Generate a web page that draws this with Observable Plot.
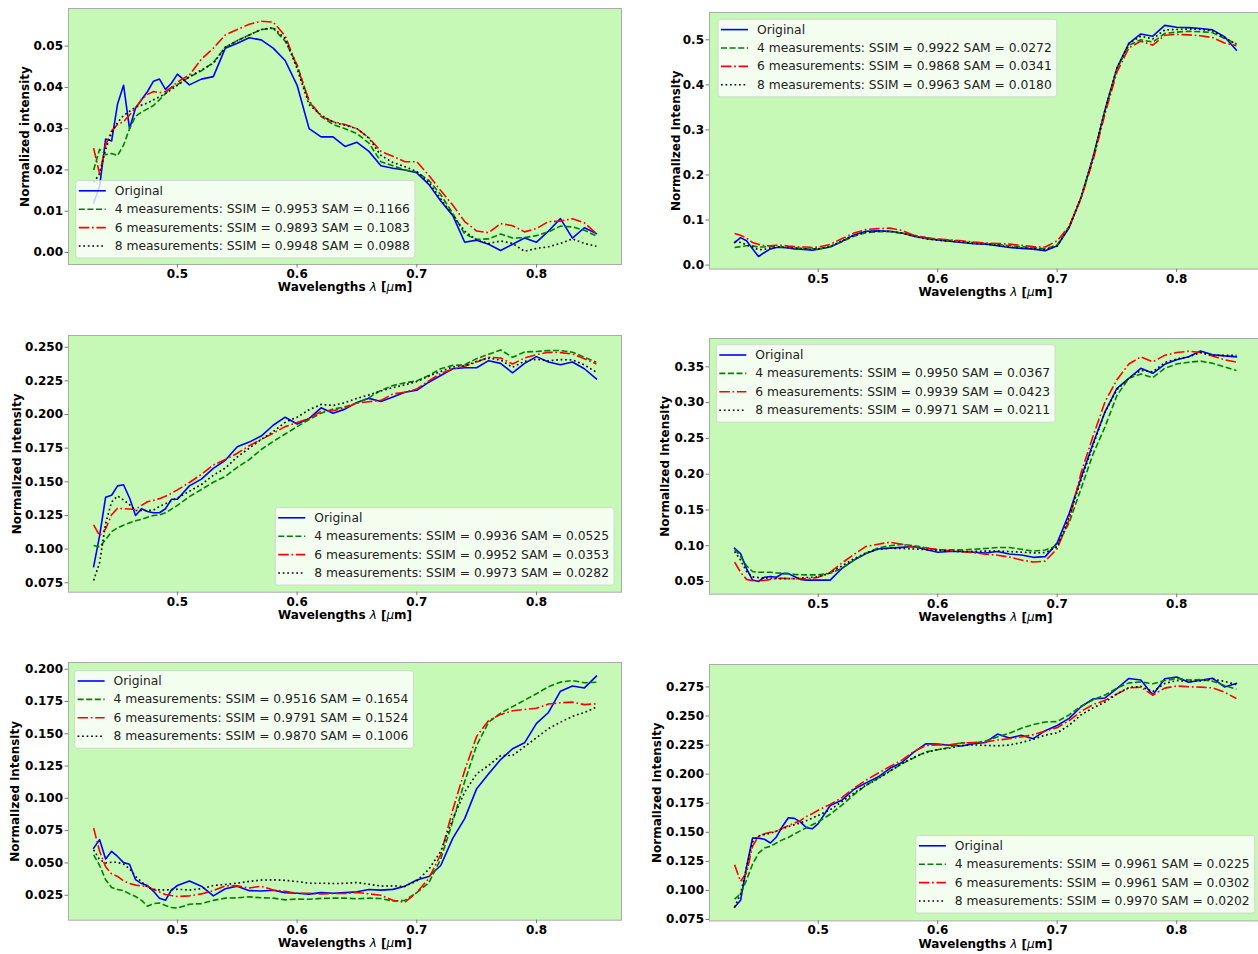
<!DOCTYPE html>
<html>
<head>
<meta charset="utf-8">
<script src="https://cdn.jsdelivr.net/npm/d3@7"></script>
<script src="https://cdn.jsdelivr.net/npm/@observablehq/plot@0.6"></script>
<style>
html, body { margin: 0; padding: 0; background: #ffffff; width: 1258px; height: 954px; overflow: hidden; }
.cell { position: absolute; }
</style>
</head>
<body>
<script>
// ---------- shared wavelength grid (µm) ----------
const W = [0.430,0.435,0.440,0.445,0.450,0.455,0.460,0.465,0.470,0.475,0.480,0.485,0.490,0.495,0.500,
  0.51,0.52,0.53,0.54,0.55,0.56,0.57,0.58,0.59,0.60,0.61,0.62,0.63,0.64,0.65,0.66,0.67,0.68,0.69,0.70,
  0.71,0.72,0.73,0.74,0.75,0.76,0.77,0.78,0.79,0.80,0.81,0.82,0.83,0.84,0.85];

const seriesNames = ["Original", "4 measurements", "6 measurements", "8 measurements"];
const xTicks = [0.5, 0.6, 0.7, 0.8];
const xLabel = "Wavelengths λ [μm]";
const yLabel = "Normalized intensity";

// ---------- panel 1 ----------
const p1Original = [0.012,0.016,0.0275,0.027,0.036,0.0405,0.030,0.035,0.037,0.039,0.0415,0.042,0.0395,0.041,0.0432,
  0.0406,0.042,0.0426,0.0495,0.0507,0.052,0.0515,0.0495,0.0465,0.0405,0.030,0.028,0.028,0.0257,0.0267,0.0245,0.021,0.0204,0.020,0.0193,
  0.0165,0.0125,0.009,0.0025,0.003,0.002,0.0005,0.002,0.0035,0.0025,0.0052,0.0082,0.0035,0.006,0.0046];
const p1M4 = [0.020,0.025,0.0237,0.024,0.0235,0.026,0.030,0.033,0.034,0.0348,0.0356,0.037,0.0385,0.040,0.0407,
  0.0425,0.044,0.046,0.0497,0.0513,0.0527,0.054,0.0543,0.0512,0.0455,0.0365,0.033,0.031,0.030,0.0288,0.0265,0.022,0.021,0.020,0.0195,
  0.0175,0.014,0.0095,0.0045,0.0032,0.0033,0.0045,0.0035,0.0036,0.0041,0.005,0.0064,0.0062,0.0054,0.004];
const p1M6 = [0.0253,0.019,0.026,0.0295,0.031,0.0317,0.0333,0.035,0.037,0.0383,0.039,0.0387,0.039,0.040,0.0413,
  0.043,0.0468,0.0495,0.0527,0.054,0.0553,0.056,0.0558,0.0525,0.045,0.0368,0.033,0.0317,0.031,0.030,0.0278,0.0245,0.0233,0.022,0.022,
  0.0187,0.015,0.0115,0.0075,0.0052,0.0048,0.007,0.0065,0.005,0.0058,0.0075,0.0076,0.0082,0.0072,0.0046];
const p1M8 = [0.017,0.019,0.025,0.029,0.0315,0.0332,0.0342,0.0352,0.0357,0.0362,0.037,0.0377,0.0385,0.0395,0.0405,
  0.0426,0.0442,0.0458,0.0497,0.0513,0.0527,0.054,0.0545,0.0518,0.0445,0.0358,0.0333,0.0316,0.0308,0.030,0.0277,0.0235,0.0218,0.0208,0.0196,
  0.017,0.013,0.009,0.0052,0.003,0.0022,0.0028,0.0022,0.0003,0.001,0.0014,0.0022,0.0033,0.0022,0.0015];
const p1Metrics = [[0.9953, 0.1166], [0.9893, 0.1083], [0.9948, 0.0988]];
const p1YTicks = [0, 0.01, 0.02, 0.03, 0.04, 0.05];
const p1YDomain = [-0.0029, 0.0591];

// ---------- panel 2 ----------
const p2Original = [0.050,0.061,0.054,0.036,0.019,0.028,0.036,0.039,0.039,0.038,0.036,0.035,0.034,0.033,0.035,
  0.040,0.053,0.067,0.075,0.076,0.075,0.071,0.064,0.059,0.056,0.053,0.050,0.0475,0.0465,0.043,0.039,0.037,0.0355,0.032,0.043,
  0.083,0.150,0.239,0.344,0.437,0.492,0.513,0.508,0.532,0.528,0.527,0.525,0.522,0.507,0.477];
const p2M4 = [0.039,0.041,0.043,0.043,0.040,0.040,0.042,0.041,0.040,0.039,0.038,0.037,0.036,0.036,0.036,
  0.041,0.052,0.064,0.072,0.074,0.074,0.071,0.066,0.061,0.057,0.055,0.052,0.050,0.048,0.046,0.043,0.041,0.039,0.036,0.045,
  0.085,0.150,0.238,0.342,0.435,0.488,0.500,0.495,0.514,0.517,0.519,0.518,0.516,0.503,0.491];
const p2M6 = [0.070,0.066,0.060,0.050,0.046,0.043,0.043,0.044,0.044,0.042,0.041,0.040,0.040,0.039,0.040,
  0.046,0.059,0.071,0.079,0.081,0.082,0.077,0.066,0.061,0.058,0.056,0.054,0.051,0.049,0.048,0.0465,0.044,0.041,0.040,0.054,
  0.086,0.148,0.232,0.336,0.428,0.482,0.497,0.488,0.510,0.512,0.511,0.509,0.505,0.493,0.487];
const p2M8 = [0.052,0.050,0.045,0.040,0.034,0.035,0.038,0.040,0.040,0.039,0.038,0.037,0.036,0.035,0.036,
  0.041,0.054,0.066,0.073,0.075,0.075,0.071,0.064,0.058,0.055,0.053,0.051,0.048,0.047,0.044,0.040,0.038,0.037,0.034,0.042,
  0.084,0.151,0.239,0.344,0.438,0.492,0.508,0.502,0.522,0.523,0.524,0.523,0.520,0.505,0.490];
const p2Metrics = [[0.9922, 0.0272], [0.9868, 0.0341], [0.9963, 0.0180]];
const p2YTicks = [0, 0.1, 0.2, 0.3, 0.4, 0.5];
const p2YDomain = [-0.0089, 0.5606];

// ---------- panel 3 ----------
const p3Original = [0.087,0.110,0.1386,0.140,0.147,0.1478,0.138,0.125,0.130,0.128,0.127,0.127,0.130,0.137,0.137,
  0.147,0.152,0.160,0.166,0.176,0.1795,0.184,0.192,0.198,0.193,0.197,0.205,0.201,0.204,0.209,0.212,0.2097,0.213,0.2165,0.218,
  0.224,0.229,0.234,0.2347,0.2347,0.240,0.238,0.231,0.238,0.243,0.239,0.237,0.239,0.234,0.2265];
const p3M4 = [0.1027,0.1015,0.107,0.113,0.1158,0.1178,0.1195,0.121,0.1222,0.1237,0.125,0.1255,0.127,0.1297,0.1325,
  0.139,0.1443,0.1497,0.154,0.1608,0.1665,0.174,0.180,0.1855,0.191,0.1963,0.201,0.204,0.2057,0.2085,0.2125,0.218,0.2215,0.2235,0.225,
  0.229,0.234,0.2365,0.237,0.2415,0.2447,0.248,0.2425,0.2465,0.2468,0.2475,0.2475,0.2463,0.2426,0.2389];
const p3M6 = [0.118,0.110,0.115,0.1255,0.1304,0.130,0.1298,0.1294,0.1325,0.1352,0.1362,0.1375,0.1393,0.1415,0.144,
  0.1495,0.1555,0.1625,0.1665,0.1712,0.1768,0.1815,0.186,0.191,0.194,0.197,0.2023,0.2028,0.205,0.2085,0.2095,0.2105,0.2153,0.2165,0.219,
  0.225,0.2305,0.2338,0.2358,0.239,0.2425,0.242,0.2375,0.242,0.2445,0.2463,0.246,0.245,0.2415,0.2376];
const p3M8 = [0.0767,0.090,0.119,0.135,0.1395,0.1365,0.133,0.1287,0.1287,0.1287,0.129,0.1317,0.1337,0.1358,0.138,
  0.143,0.148,0.1548,0.1602,0.1685,0.175,0.1815,0.1873,0.1942,0.198,0.2035,0.2075,0.2067,0.2088,0.212,0.2146,0.2175,0.220,0.222,0.2245,
  0.2285,0.232,0.2353,0.2362,0.2395,0.2418,0.2405,0.2351,0.2395,0.241,0.2398,0.2408,0.2406,0.2368,0.2314];
const p3Metrics = [[0.9936, 0.0525], [0.9952, 0.0353], [0.9973, 0.0282]];
const p3YTicks = [0.075, 0.1, 0.125, 0.15, 0.175, 0.2, 0.225, 0.25];
const p3YDomain = [0.068, 0.2587];

// ---------- panel 4 ----------
const p4Original = [0.0965,0.089,0.068,0.052,0.050,0.056,0.057,0.056,0.061,0.061,0.057,0.053,0.052,0.052,0.052,
  0.052,0.0686,0.080,0.089,0.0955,0.0967,0.0977,0.099,0.0948,0.091,0.092,0.092,0.091,0.0898,0.092,0.0885,0.087,0.0838,0.0848,0.104,
  0.145,0.195,0.243,0.287,0.320,0.334,0.348,0.341,0.3535,0.360,0.364,0.372,0.367,0.3653,0.364];
const p4M4 = [0.095,0.085,0.072,0.064,0.063,0.063,0.063,0.062,0.0616,0.061,0.060,0.0595,0.0593,0.0593,0.0593,
  0.0616,0.0686,0.080,0.0895,0.097,0.100,0.102,0.100,0.0972,0.0942,0.0942,0.0942,0.095,0.0962,0.0975,0.0975,0.095,0.0925,0.094,0.100,
  0.132,0.180,0.228,0.266,0.310,0.334,0.340,0.335,0.348,0.354,0.3565,0.358,0.355,0.350,0.345];
const p4M6 = [0.077,0.063,0.053,0.051,0.051,0.0515,0.053,0.054,0.0545,0.054,0.054,0.054,0.054,0.0545,0.056,
  0.063,0.076,0.088,0.099,0.102,0.105,0.102,0.098,0.0967,0.0948,0.093,0.0915,0.0905,0.0882,0.0868,0.0842,0.080,0.0772,0.0785,0.096,
  0.136,0.202,0.253,0.301,0.332,0.354,0.364,0.357,0.366,0.370,0.3718,0.370,0.365,0.360,0.3565];
const p4M8 = [0.092,0.080,0.064,0.0565,0.0555,0.055,0.0545,0.0542,0.054,0.054,0.054,0.0548,0.0555,0.056,0.0565,
  0.062,0.072,0.082,0.090,0.095,0.0965,0.0962,0.0955,0.0945,0.0935,0.0925,0.092,0.092,0.0925,0.0925,0.092,0.091,0.090,0.0905,0.098,
  0.140,0.192,0.240,0.287,0.318,0.334,0.345,0.343,0.356,0.361,0.364,0.370,0.366,0.366,0.366];
const p4Metrics = [[0.9950, 0.0367], [0.9939, 0.0423], [0.9971, 0.0211]];
const p4YTicks = [0.05, 0.1, 0.15, 0.2, 0.25, 0.3, 0.35];
const p4YDomain = [0.0323, 0.3896];

// ---------- panel 5 ----------
const p5Original = [0.0614,0.068,0.053,0.059,0.055,0.0502,0.049,0.037,0.034,0.0325,0.028,0.0227,0.021,0.029,0.0325,
  0.036,0.032,0.0245,0.030,0.032,0.0285,0.0283,0.0288,0.027,0.0265,0.0258,0.027,0.0265,0.027,0.0276,0.0294,0.0289,0.0295,0.032,0.0368,
  0.0395,0.048,0.069,0.0843,0.1075,0.119,0.130,0.1384,0.143,0.158,0.1665,0.183,0.187,0.1855,0.1946];
const p5M4 = [0.0562,0.048,0.037,0.031,0.0294,0.0285,0.026,0.024,0.021,0.0165,0.0185,0.019,0.017,0.0155,0.015,
  0.018,0.0185,0.021,0.0227,0.023,0.0237,0.023,0.0227,0.0214,0.022,0.0218,0.0225,0.0227,0.0227,0.0222,0.0227,0.0224,0.0205,0.021,0.027,
  0.0345,0.053,0.082,0.113,0.141,0.159,0.166,0.171,0.176,0.181,0.1865,0.190,0.1912,0.1895,0.1899];
const p5M6 = [0.0769,0.059,0.047,0.0415,0.0395,0.036,0.034,0.0328,0.0322,0.0318,0.0295,0.0275,0.0256,0.0247,0.024,
  0.0245,0.026,0.0285,0.0322,0.0322,0.0306,0.032,0.029,0.028,0.0265,0.0265,0.026,0.0263,0.0263,0.0271,0.026,0.025,0.021,0.0195,0.027,
  0.038,0.0565,0.091,0.1216,0.148,0.1603,0.165,0.1678,0.1688,0.1698,0.173,0.174,0.1745,0.1726,0.1732];
const p5M8 = [0.0601,0.0525,0.050,0.0505,0.0505,0.049,0.0455,0.0395,0.0355,0.031,0.0295,0.0291,0.0291,0.0293,0.0296,
  0.029,0.030,0.0325,0.0333,0.0343,0.0357,0.0367,0.0369,0.0365,0.0356,0.0343,0.0343,0.034,0.0342,0.0348,0.0335,0.032,0.0322,0.0318,0.036,
  0.045,0.059,0.084,0.1049,0.119,0.1255,0.133,0.1332,0.140,0.147,0.154,0.159,0.1635,0.1665,0.1706];
const p5Metrics = [[0.9516, 0.1654], [0.9791, 0.1524], [0.9870, 0.1006]];
const p5YTicks = [0.025, 0.05, 0.075, 0.1, 0.125, 0.15, 0.175, 0.2];
const p5YDomain = [0.00564, 0.2052];

// ---------- panel 6 ----------
const p6Original = [0.0856,0.0915,0.120,0.145,0.145,0.144,0.1408,0.146,0.155,0.1625,0.162,0.159,0.154,0.153,0.1575,
  0.173,0.1778,0.187,0.1925,0.1975,0.205,0.210,0.219,0.2261,0.2258,0.2248,0.2242,0.2262,0.2272,0.2345,0.231,0.2335,0.2305,0.2374,0.2418,
  0.248,0.258,0.2646,0.2655,0.2735,0.2823,0.2810,0.268,0.282,0.2836,0.279,0.2807,0.2825,0.275,0.2779];
const p6M4 = [0.0925,0.097,0.109,0.1225,0.132,0.1365,0.138,0.1408,0.1435,0.1455,0.1485,0.1512,0.1538,0.1565,0.159,
  0.1655,0.1735,0.1825,0.1905,0.1965,0.2028,0.2088,0.214,0.2192,0.221,0.223,0.227,0.2266,0.2285,0.232,0.2352,0.2395,0.2427,0.2449,0.2452,
  0.251,0.2585,0.2638,0.268,0.274,0.2785,0.2793,0.2777,0.2805,0.2822,0.281,0.2813,0.280,0.2762,0.273];
const p6M6 = [0.122,0.1078,0.115,0.138,0.1465,0.1488,0.150,0.1508,0.1535,0.1556,0.158,0.160,0.1635,0.166,0.169,
  0.174,0.180,0.188,0.1948,0.2008,0.2066,0.212,0.2195,0.2245,0.2252,0.2252,0.2268,0.2272,0.2277,0.2293,0.2305,0.232,0.234,0.237,0.240,
  0.246,0.254,0.2598,0.2635,0.269,0.2742,0.2748,0.268,0.274,0.2758,0.2752,0.2748,0.2742,0.2705,0.265];
const p6M8 = [0.0856,0.097,0.120,0.1415,0.1468,0.148,0.1492,0.151,0.153,0.1548,0.1565,0.158,0.160,0.1622,0.1645,
  0.1693,0.1765,0.1838,0.1905,0.196,0.2025,0.209,0.2145,0.2185,0.2212,0.2223,0.2246,0.2252,0.2247,0.2244,0.225,0.2272,0.230,0.2336,0.2355,
  0.242,0.251,0.257,0.262,0.269,0.2745,0.2755,0.271,0.278,0.2805,0.2797,0.2802,0.2818,0.2798,0.277];
const p6Metrics = [[0.9961, 0.0225], [0.9961, 0.0302], [0.9970, 0.0202]];
const p6YTicks = [0.075, 0.1, 0.125, 0.15, 0.175, 0.2, 0.225, 0.25, 0.275];
const p6YDomain = [0.0738, 0.2943];

// ---------- styling ----------
const FONT = "'DejaVu Sans', sans-serif";
const BG = "#c6f8b6";
const seriesStyles = [
  {stroke: "#0000ff", dash: undefined},
  {stroke: "#008000", dash: "6,2.6"},
  {stroke: "#ff0000", dash: "10.5,2.7,1.7,2.7"},
  {stroke: "#000000", dash: "1.7,2.8"}
];
const f4 = d3.format(".4f");

const panels = [
  {series: [p1Original, p1M4, p1M6, p1M8], metrics: p1Metrics, yTicks: p1YTicks, yDomain: p1YDomain, fmt: ".2f",
   frame: [68, 8.3, 621, 264.3], yOff: 43, legend: {corner: "lowerLeft", dx: 7.8, dy: 6}},
  {series: [p2Original, p2M4, p2M6, p2M8], metrics: p2Metrics, yTicks: p2YTicks, yDomain: p2YDomain, fmt: ".1f",
   frame: [709, 11.7, 1261, 268.3], yOff: 33, legend: {corner: "upperLeft", dx: 9, dy: 7.3}},
  {series: [p3Original, p3M4, p3M6, p3M8], metrics: p3Metrics, yTicks: p3YTicks, yDomain: p3YDomain, fmt: ".3f",
   frame: [68, 335, 621, 591.7], yOff: 51, legend: {corner: "lowerRight", dx: 7, dy: 6.7}},
  {series: [p4Original, p4M4, p4M6, p4M8], metrics: p4Metrics, yTicks: p4YTicks, yDomain: p4YDomain, fmt: ".2f",
   frame: [709, 338.3, 1261, 594], yOff: 44, legend: {corner: "upperLeft", dx: 7.3, dy: 6.7}},
  {series: [p5Original, p5M4, p5M6, p5M8], metrics: p5Metrics, yTicks: p5YTicks, yDomain: p5YDomain, fmt: ".3f",
   frame: [68, 662.3, 621, 920], yOff: 53, legend: {corner: "upperLeft", dx: 6.6, dy: 8.7}},
  {series: [p6Original, p6M4, p6M6, p6M8], metrics: p6Metrics, yTicks: p6YTicks, yDomain: p6YDomain, fmt: ".3f",
   frame: [709, 664.3, 1261, 920.7], yOff: 52, legend: {corner: "lowerRight", dx: 6.4, dy: 7.4}}
];

function addLegend(svg, p, fx0, fy0, fx1, fy1) {
  const fs = 12.3, rowH = 18.4, firstRow = 10.3, bh = 77.5;
  const labels = [seriesNames[0]].concat(
    p.metrics.map((m, k) => `${seriesNames[k + 1]}: SSIM = ${f4(m[0])} SAM = ${f4(m[1])}`));
  const g = d3.select(svg).append("g")
    .attr("font-family", FONT).attr("font-size", fs).attr("text-anchor", "start");
  const rect = g.append("rect");
  const handles = g.append("g");
  const texts = labels.map(t => g.append("text").attr("fill", "#222")
    .attr("text-anchor", "start").attr("dominant-baseline", "central").text(t));
  const tw = d3.max(texts, t => t.node().getComputedTextLength());
  const bw = tw + 44;
  const L = p.legend;
  const bx = L.corner === "lowerRight" ? fx1 - L.dx - bw : fx0 + L.dx;
  const by = L.corner === "upperLeft" ? fy0 + L.dy : fy1 - L.dy - bh;
  rect.attr("x", bx).attr("y", by).attr("width", bw).attr("height", bh).attr("rx", 2.5)
    .attr("fill", "#ffffff").attr("fill-opacity", 0.8).attr("stroke", "#d0d0d0").attr("stroke-opacity", 0.8);
  texts.forEach((t, i) => t.attr("x", bx + 39).attr("y", by + firstRow + i * rowH));
  seriesStyles.forEach((s, i) => {
    const yy = by + firstRow + i * rowH;
    handles.append("line").attr("x1", bx + 3).attr("x2", bx + 30).attr("y1", yy).attr("y2", yy)
      .attr("stroke", s.stroke).attr("stroke-width", 1.6)
      .attr("stroke-dasharray", s.dash || null);
  });
}

function makePanel(p) {
  const mL = 66, mR = 6, mT = 8, mB = 36;
  const fw = p.frame[2] - p.frame[0], fh = p.frame[3] - p.frame[1];
  const width = mL + fw + mR, height = mT + fh + mB;
  const axisText = {fontWeight: "bold", fontSize: 12, fill: "#000", stroke: "#777"};
  const svg = Plot.plot({
    width, height,
    marginLeft: mL, marginRight: mR, marginTop: mT, marginBottom: mB,
    style: {fontFamily: FONT, background: "transparent", overflow: "visible", maxWidth: "none"},
    x: {domain: [0.409, 0.871]},
    y: {domain: p.yDomain},
    marks: [
      Plot.frame({fill: BG, stroke: "none"}),
      ...p.series.map((arr, k) => Plot.line(arr.map((v, i) => [W[i], v]), {
        stroke: seriesStyles[k].stroke,
        strokeWidth: 1.6,
        strokeDasharray: seriesStyles[k].dash,
        strokeLinecap: k === 0 ? "square" : "butt",
        strokeLinejoin: "round"
      })),
      Plot.frame({stroke: "#ababab", strokeWidth: 1}),
      Plot.axisX({ticks: xTicks, tickFormat: d3.format(".1f"), tickSize: 3.5, tickPadding: 1.5, label: null, ...axisText}),
      Plot.axisY({ticks: p.yTicks, tickFormat: d3.format(p.fmt), tickSize: 3.5, tickPadding: 2, label: null, ...axisText}),
      Plot.text([xLabel], {text: d => d, frameAnchor: "bottom", dy: 23, lineAnchor: "middle", textAnchor: "middle",
        fontWeight: "bold", fontSize: 12, fill: "#000"}),
      Plot.text([yLabel], {text: d => d, frameAnchor: "left", dx: -p.yOff, rotate: -90, lineAnchor: "middle",
        textAnchor: "middle", fontWeight: "bold", fontSize: 12, fill: "#000"})
    ]
  });
  const div = document.createElement("div");
  div.className = "cell";
  div.style.left = (p.frame[0] - mL) + "px";
  div.style.top = (p.frame[1] - mT) + "px";
  div.style.width = width + "px";
  div.style.height = height + "px";
  div.appendChild(svg);
  document.body.appendChild(div);

  // math-style italic λ and μ in the x label
  d3.select(svg).selectAll("text").filter(function () { return this.textContent === xLabel; })
    .each(function () {
      const t = d3.select(this);
      t.text(null);
      t.append("tspan").text("Wavelengths ");
      t.append("tspan").attr("font-style", "italic").attr("font-weight", "normal").text("λ");
      t.append("tspan").text(" [");
      t.append("tspan").attr("font-style", "italic").attr("font-weight", "normal").text("μ");
      t.append("tspan").text("m]");
    });

  addLegend(svg, p, mL, mT, mL + fw, mT + fh);
}

panels.forEach(makePanel);
</script>
</body>
</html>
